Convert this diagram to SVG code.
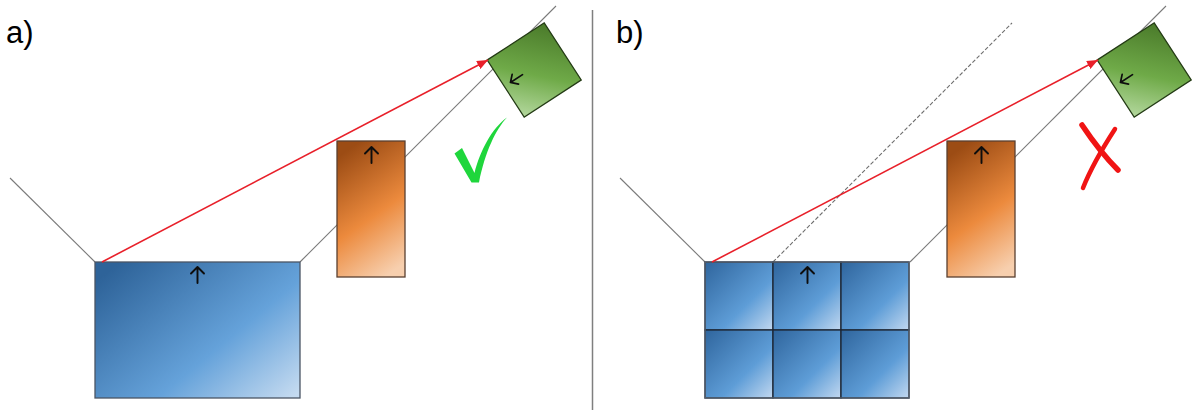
<svg xmlns="http://www.w3.org/2000/svg" width="1192" height="410" viewBox="0 0 1192 410">
  <style>
    .lbl { font-family: "Liberation Sans", Arial, sans-serif; font-size: 31px; fill: #000; }
    .guide { stroke: #7a7a7a; stroke-width: 1.1; fill: none; }
    .dash { stroke: #6e6e6e; stroke-width: 1.1; stroke-dasharray: 4 2; fill: none; }
    .ray { stroke: #e8202a; stroke-width: 1.6; fill: none; }
    .nrm { stroke: #0d0d0d; stroke-width: 1.9; fill: none; stroke-linecap: round; stroke-linejoin: round; }
    .blue { fill: url(#gBlue); stroke: #4a5564; stroke-width: 1.3; }
    .cell { fill: url(#gCell); stroke: #1c2533; stroke-width: 1.3; }
    .orange { fill: url(#gOrange); stroke: #5a4030; stroke-width: 1.3; }
    .green { fill: url(#gGreen); stroke: #233a14; stroke-width: 1.3; }
    .divider { stroke: #7f7f7f; stroke-width: 1.5; }
  </style>
  <defs>
    <linearGradient id="gBlue" x1="0" y1="0.15" x2="1" y2="0.95">
      <stop offset="0" stop-color="#2e6399"/>
      <stop offset="0.6" stop-color="#65a2da"/>
      <stop offset="1" stop-color="#c4daf0"/>
    </linearGradient>
    <linearGradient id="gCell" x1="0" y1="0" x2="1" y2="1">
      <stop offset="0" stop-color="#2f659d"/>
      <stop offset="0.62" stop-color="#5e9dd7"/>
      <stop offset="1" stop-color="#c2d8f0"/>
    </linearGradient>
    <linearGradient id="gOrange" x1="0.35" y1="0" x2="0.7" y2="1">
      <stop offset="0" stop-color="#9c4c14"/>
      <stop offset="0.55" stop-color="#ec8a3d"/>
      <stop offset="1" stop-color="#f7cfae"/>
    </linearGradient>
    <linearGradient id="gGreen" x1="1" y1="0" x2="0" y2="1">
      <stop offset="0" stop-color="#4a7a2a"/>
      <stop offset="0.55" stop-color="#6faa48"/>
      <stop offset="1" stop-color="#b4d89e"/>
    </linearGradient>
    <marker id="ah" markerUnits="userSpaceOnUse" markerWidth="11" markerHeight="9" refX="11" refY="4.5" orient="auto">
      <path d="M0,0 L11,4.5 L0,9 Z" fill="#e8202a"/>
    </marker>
    <path id="up" d="M0,-8 V8 M-6.5,-1.5 L0,-8 L6.5,-1.5"/>
  </defs>

  <rect width="1192" height="410" fill="#fff"/>

  <!-- guide lines behind the nodes -->
  <g id="guides">
    <path class="guide" d="M10,178 L95,262"/>
    <path class="guide" d="M300,262 L556,6"/>
    <path class="guide" d="M620,178 L705,262"/>
    <path class="guide" d="M910,262 L1166,6"/>
    <path class="dash" d="M773,262 L1012,23"/>
  </g>

  <line class="divider" x1="592.5" y1="10" x2="592.5" y2="410"/>

  <text class="lbl" x="6" y="43">a)</text>
  <text class="lbl" x="616" y="43">b)</text>

  <!-- panel a -->
  <g id="a-blue">
    <rect class="blue" x="95" y="262" width="205" height="136"/>
    <use href="#up" class="nrm" x="197.5" y="275"/>
  </g>
  <g id="a-orange">
    <rect class="orange" x="337" y="141" width="68" height="136"/>
    <use href="#up" class="nrm" x="371.5" y="155"/>
  </g>
  <g id="a-green" transform="translate(534.2,70) rotate(-33)">
    <rect class="green" x="-34" y="-34" width="68" height="68"/>
    <use href="#up" class="nrm" transform="translate(-19.5,-2.5) rotate(-90) scale(0.9)"/>
  </g>
  <g id="a-check">
    <path d="M454.5,153.5 L462,148 L474.5,173 C480,151 492,128 507,117.5 C496,129 485,152 479,182.5 L471.5,182.5 Z" fill="#1fd63c"/>
  </g>

  <!-- panel b -->
  <g id="b-blue">
    <rect class="cell" x="705" y="262" width="68" height="68"/>
    <rect class="cell" x="773" y="262" width="68" height="68"/>
    <rect class="cell" x="841" y="262" width="68" height="68"/>
    <rect class="cell" x="705" y="330" width="68" height="68"/>
    <rect class="cell" x="773" y="330" width="68" height="68"/>
    <rect class="cell" x="841" y="330" width="68" height="68"/>
    <rect x="705" y="262" width="204" height="136" fill="none" stroke="#5a6472" stroke-width="1.3"/>
    <use href="#up" class="nrm" x="807.5" y="275"/>
  </g>
  <g id="b-orange">
    <rect class="orange" x="947" y="141" width="68" height="136"/>
    <use href="#up" class="nrm" x="981.5" y="155"/>
  </g>
  <g id="b-green" transform="translate(1144.2,70) rotate(-33)">
    <rect class="green" x="-34" y="-34" width="68" height="68"/>
    <use href="#up" class="nrm" transform="translate(-19.5,-2.5) rotate(-90) scale(0.9)"/>
  </g>
  <g id="b-cross" fill="none" stroke="#f01414" stroke-linecap="round">
    <path d="M1082,125 C1092,140 1106,158 1118,170" stroke-width="5.5"/>
    <path d="M1115,129 C1104,146 1092,165 1083,188" stroke-width="4.5"/>
  </g>

  <!-- rays -->
  <g id="rays">
    <path class="ray" d="M102,262 L488,60" marker-end="url(#ah)"/>
    <path class="ray" d="M712,262 L1098,60" marker-end="url(#ah)"/>
  </g>
</svg>
